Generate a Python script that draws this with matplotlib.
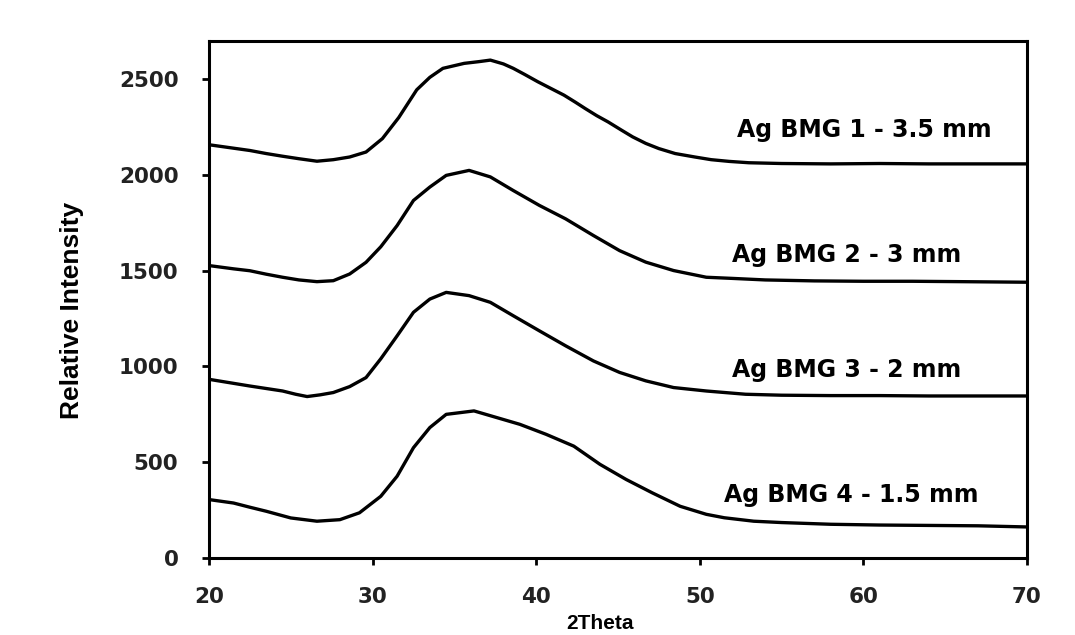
import matplotlib.pyplot as plt

# XRD scans of the four Ag bulk metallic glass samples (stacked, offset)
theta_1 = [20, 21.5, 22.5, 23.5, 24.5, 25.5, 26.6, 27.6, 28.6, 29.6,
           30.6, 31.6, 32.7, 33.5, 34.3, 35.6, 36.5, 37.2, 38.0, 38.6,
           39.3, 40.1, 40.9, 41.7, 42.4, 43.0, 43.7, 44.4, 45.2, 45.9,
           46.7, 47.5, 48.5, 49.7, 50.7, 51.8, 53, 55, 58, 61,
           64, 67, 70]
inten_1 = [2158, 2140, 2128, 2112, 2098, 2085, 2072, 2080, 2094, 2120,
           2190, 2300, 2445, 2510, 2557, 2583, 2592, 2600, 2580, 2557,
           2525, 2487, 2452, 2417, 2380, 2347, 2310, 2277, 2235, 2199,
           2165, 2138, 2112, 2094, 2080, 2071, 2064, 2060, 2058, 2060,
           2058, 2058, 2058]

theta_2 = [20, 21.5, 22.5, 23.5, 24.5, 25.5, 26.6, 27.6, 28.6, 29.6,
           30.5, 31.5, 32.5, 33.5, 34.5, 35.9, 37.2, 38.6, 40.2, 41.8,
           43.5, 45.1, 46.7, 48.4, 50.4, 52, 54, 57, 60, 63,
           66, 70]
inten_2 = [1527, 1510, 1500, 1482, 1466, 1452, 1443, 1448, 1483, 1544,
           1625, 1736, 1867, 1937, 1998, 2024, 1990, 1919, 1841, 1771,
           1684, 1605, 1545, 1501, 1466, 1460, 1452, 1447, 1445, 1445,
           1443, 1440]

theta_3 = [20, 21.5, 22.5, 23.5, 24.5, 25.3, 26.0, 26.8, 27.6, 28.6,
           29.6, 30.5, 31.5, 32.5, 33.5, 34.5, 35.9, 37.2, 38.6, 40.2,
           41.8, 43.5, 45.1, 46.7, 48.4, 50.4, 52.8, 55, 58, 61,
           64, 67, 70]
inten_3 = [933, 912, 898, 885, 872, 855, 843, 852, 864, 895,
           942, 1040, 1160, 1283, 1352, 1387, 1370, 1335, 1265, 1186,
           1108, 1029, 969, 925, 890, 872, 855, 850, 848, 848,
           846, 846, 846]

theta_4 = [20, 21.5, 22.5, 23.5, 25.0, 26.6, 28.0, 29.2, 30.5, 31.5,
           32.5, 33.5, 34.5, 36.2, 37.6, 39.0, 40.6, 42.3, 43.9, 45.5,
           47.1, 48.8, 50.4, 51.5, 53.3, 55, 58, 61, 64, 67,
           70]
inten_4 = [305, 287, 265, 244, 209, 192, 200, 236, 322, 427,
           576, 681, 750, 768, 733, 698, 646, 584, 489, 410,
           340, 270, 228, 210, 192, 185, 176, 172, 170, 168,
           162]

sample_names = ['Ag BMG 1 - 3.5 mm', 'Ag BMG 2 - 3 mm',
                'Ag BMG 3 - 2 mm', 'Ag BMG 4 - 1.5 mm']
x_ticks = [20, 30, 40, 50, 60, 70]
y_ticks = [0, 500, 1000, 1500, 2000, 2500]

# where each sample name sits (data coords, left edge / baseline)
name_pos = [(52.25, 2200), (52.0, 1546), (51.95, 944), (51.5, 290)]

fig = plt.figure(figsize=(10.75, 6.35), dpi=100)
ax = fig.add_axes([0.1944, 0.1213, 0.7609, 0.8142])

for th, inten in [(theta_1, inten_1), (theta_2, inten_2),
                  (theta_3, inten_3), (theta_4, inten_4)]:
    ax.plot(th, inten, color='black', lw=2.4, solid_joinstyle='round')

for name, (tx, ty) in zip(sample_names, name_pos):
    ax.text(tx, ty, name, ha='left', va='baseline', fontsize=17,
            fontweight='bold', family='DejaVu Sans', color='black')

ax.set_xlim(20, 70)
ax.set_ylim(0, 2700)
ax.set_xticks(x_ticks)
ax.set_yticks(y_ticks)
ax.tick_params(axis='both', direction='out', length=5, width=2,
               labelsize=15.5, colors='black')
ax.tick_params(axis='x', pad=16)
ax.tick_params(axis='y', pad=17)
for lbl in ax.get_xticklabels() + ax.get_yticklabels():
    lbl.set_fontweight('bold')
    lbl.set_family('DejaVu Sans')
    lbl.set_color('#222222')

for sp in ax.spines.values():
    sp.set_linewidth(2.2)
    sp.set_color('black')

fig.text(72 / 1075, 1 - 310 / 635, 'Relative Intensity', rotation=90,
         ha='center', va='center', fontsize=19, fontweight='bold',
         family='Liberation Sans')
fig.text(566 / 1075, 2 / 635, '2Theta', ha='left', va='bottom',
         fontsize=15, fontweight='bold', family='Liberation Sans')

fig.savefig('out.png', dpi=100)
